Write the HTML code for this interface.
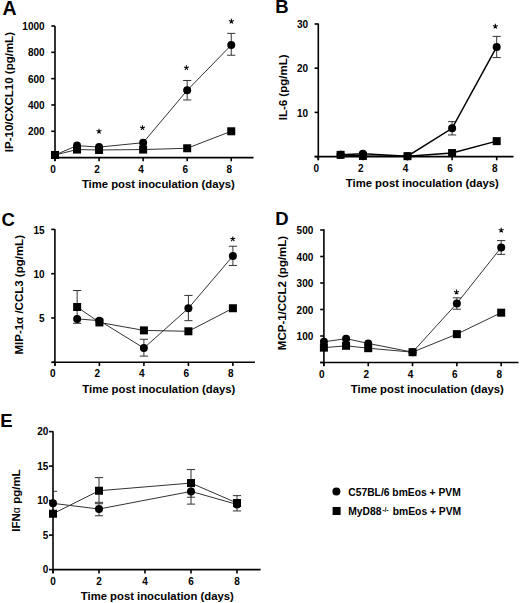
<!DOCTYPE html>
<html><head><meta charset="utf-8"><style>
html,body{margin:0;padding:0;background:#fff;}
svg{display:block;}
svg text{font-family:"Liberation Sans",sans-serif;font-weight:bold;}
</style></head><body>
<svg width="520" height="603" viewBox="0 0 520 603">
<rect width="520" height="603" fill="#fff"/>
<line x1="55.00" y1="25.90" x2="55.00" y2="161.10" stroke="#000" stroke-width="1.6"/>
<line x1="55.00" y1="157.60" x2="253.50" y2="157.60" stroke="#000" stroke-width="1.6"/>
<line x1="51.30" y1="157.60" x2="55.00" y2="157.60" stroke="#000" stroke-width="1.6"/>
<line x1="51.30" y1="131.28" x2="55.00" y2="131.28" stroke="#000" stroke-width="1.6"/>
<text x="44.60" y="135.38" font-size="10" text-anchor="end"  >200</text>
<line x1="51.30" y1="104.96" x2="55.00" y2="104.96" stroke="#000" stroke-width="1.6"/>
<text x="44.60" y="109.06" font-size="10" text-anchor="end"  >400</text>
<line x1="51.30" y1="78.64" x2="55.00" y2="78.64" stroke="#000" stroke-width="1.6"/>
<text x="44.60" y="82.74" font-size="10" text-anchor="end"  >600</text>
<line x1="51.30" y1="52.32" x2="55.00" y2="52.32" stroke="#000" stroke-width="1.6"/>
<text x="44.60" y="56.42" font-size="10" text-anchor="end"  >800</text>
<line x1="51.30" y1="26.00" x2="55.00" y2="26.00" stroke="#000" stroke-width="1.6"/>
<text x="44.60" y="30.10" font-size="10" text-anchor="end"  >1000</text>
<line x1="55.00" y1="157.60" x2="55.00" y2="161.30" stroke="#000" stroke-width="1.6"/>
<text x="53.00" y="172.80" font-size="10" text-anchor="middle"  >0</text>
<line x1="99.06" y1="157.60" x2="99.06" y2="161.30" stroke="#000" stroke-width="1.6"/>
<text x="97.06" y="172.80" font-size="10" text-anchor="middle"  >2</text>
<line x1="143.12" y1="157.60" x2="143.12" y2="161.30" stroke="#000" stroke-width="1.6"/>
<text x="141.12" y="172.80" font-size="10" text-anchor="middle"  >4</text>
<line x1="187.18" y1="157.60" x2="187.18" y2="161.30" stroke="#000" stroke-width="1.6"/>
<text x="185.18" y="172.80" font-size="10" text-anchor="middle"  >6</text>
<line x1="231.24" y1="157.60" x2="231.24" y2="161.30" stroke="#000" stroke-width="1.6"/>
<text x="229.24" y="172.80" font-size="10" text-anchor="middle"  >8</text>
<line x1="187.18" y1="80.48" x2="187.18" y2="99.96" stroke="#333" stroke-width="1"/>
<line x1="183.08" y1="80.48" x2="191.28" y2="80.48" stroke="#333" stroke-width="1"/>
<line x1="183.08" y1="99.96" x2="191.28" y2="99.96" stroke="#333" stroke-width="1"/>
<line x1="231.24" y1="33.37" x2="231.24" y2="55.22" stroke="#333" stroke-width="1"/>
<line x1="227.14" y1="33.37" x2="235.34" y2="33.37" stroke="#333" stroke-width="1"/>
<line x1="227.14" y1="55.22" x2="235.34" y2="55.22" stroke="#333" stroke-width="1"/>
<polyline points="55.00,154.97 77.03,145.62 99.06,147.07 143.12,142.73 187.18,90.35 231.24,45.08" fill="none" stroke="#333" stroke-width="1"/>
<polyline points="55.00,154.97 77.03,149.57 99.06,149.97 143.12,149.57 187.18,148.26 231.24,131.28" fill="none" stroke="#333" stroke-width="1"/>
<circle cx="55.00" cy="154.97" r="4" fill="#000"/>
<circle cx="77.03" cy="145.62" r="4" fill="#000"/>
<circle cx="99.06" cy="147.07" r="4" fill="#000"/>
<circle cx="143.12" cy="142.73" r="4" fill="#000"/>
<circle cx="187.18" cy="90.35" r="4" fill="#000"/>
<circle cx="231.24" cy="45.08" r="4" fill="#000"/>
<rect x="51.00" y="150.97" width="8" height="8" fill="#000"/>
<rect x="73.03" y="145.57" width="8" height="8" fill="#000"/>
<rect x="95.06" y="145.97" width="8" height="8" fill="#000"/>
<rect x="139.12" y="145.57" width="8" height="8" fill="#000"/>
<rect x="183.18" y="144.26" width="8" height="8" fill="#000"/>
<rect x="227.24" y="127.28" width="8" height="8" fill="#000"/>
<path d="M99.00,131.40L99.00,128.80M99.00,131.40L101.47,130.60M99.00,131.40L100.53,133.50M99.00,131.40L97.47,133.50M99.00,131.40L96.53,130.60" stroke="#000" stroke-width="1.05" stroke-linecap="butt" fill="none"/>
<path d="M142.50,127.80L142.50,125.20M142.50,127.80L144.97,127.00M142.50,127.80L144.03,129.90M142.50,127.80L140.97,129.90M142.50,127.80L140.03,127.00" stroke="#000" stroke-width="1.05" stroke-linecap="butt" fill="none"/>
<path d="M186.40,67.80L186.40,65.20M186.40,67.80L188.87,67.00M186.40,67.80L187.93,69.90M186.40,67.80L184.87,69.90M186.40,67.80L183.93,67.00" stroke="#000" stroke-width="1.05" stroke-linecap="butt" fill="none"/>
<path d="M231.40,21.40L231.40,18.80M231.40,21.40L233.87,20.60M231.40,21.40L232.93,23.50M231.40,21.40L229.87,23.50M231.40,21.40L228.93,20.60" stroke="#000" stroke-width="1.05" stroke-linecap="butt" fill="none"/>
<text x="81.90" y="187.70" font-size="11.3" text-anchor="start"  >Time post inoculation (days)</text>
<text x="0.00" y="0.00" font-size="11.5" text-anchor="middle"  transform="translate(12.50,92.10) rotate(-90)">IP-10/CXCL10 (pg/mL)</text>
<text x="2.50" y="14.60" font-size="19.5" text-anchor="start"  >A</text>
<line x1="318.30" y1="23.50" x2="318.30" y2="160.10" stroke="#000" stroke-width="1.6"/>
<line x1="314.60" y1="156.60" x2="513.50" y2="156.60" stroke="#000" stroke-width="1.6"/>
<line x1="314.60" y1="156.60" x2="318.30" y2="156.60" stroke="#000" stroke-width="1.6"/>
<line x1="314.60" y1="112.40" x2="318.30" y2="112.40" stroke="#000" stroke-width="1.6"/>
<text x="308.20" y="116.50" font-size="10" text-anchor="end"  >10</text>
<line x1="314.60" y1="68.20" x2="318.30" y2="68.20" stroke="#000" stroke-width="1.6"/>
<text x="308.20" y="72.30" font-size="10" text-anchor="end"  >20</text>
<line x1="314.60" y1="24.00" x2="318.30" y2="24.00" stroke="#000" stroke-width="1.6"/>
<text x="308.20" y="28.10" font-size="10" text-anchor="end"  >30</text>
<line x1="318.30" y1="156.60" x2="318.30" y2="160.30" stroke="#000" stroke-width="1.6"/>
<text x="316.30" y="171.50" font-size="10" text-anchor="middle"  >0</text>
<line x1="362.90" y1="156.60" x2="362.90" y2="160.30" stroke="#000" stroke-width="1.6"/>
<text x="360.90" y="171.50" font-size="10" text-anchor="middle"  >2</text>
<line x1="407.50" y1="156.60" x2="407.50" y2="160.30" stroke="#000" stroke-width="1.6"/>
<text x="405.50" y="171.50" font-size="10" text-anchor="middle"  >4</text>
<line x1="452.10" y1="156.60" x2="452.10" y2="160.30" stroke="#000" stroke-width="1.6"/>
<text x="450.10" y="171.50" font-size="10" text-anchor="middle"  >6</text>
<line x1="496.70" y1="156.60" x2="496.70" y2="160.30" stroke="#000" stroke-width="1.6"/>
<text x="494.70" y="171.50" font-size="10" text-anchor="middle"  >8</text>
<line x1="452.10" y1="121.68" x2="452.10" y2="134.94" stroke="#333" stroke-width="1"/>
<line x1="448.00" y1="121.68" x2="456.20" y2="121.68" stroke="#333" stroke-width="1"/>
<line x1="448.00" y1="134.94" x2="456.20" y2="134.94" stroke="#333" stroke-width="1"/>
<line x1="496.70" y1="36.38" x2="496.70" y2="57.59" stroke="#333" stroke-width="1"/>
<line x1="492.60" y1="36.38" x2="500.80" y2="36.38" stroke="#333" stroke-width="1"/>
<line x1="492.60" y1="57.59" x2="500.80" y2="57.59" stroke="#333" stroke-width="1"/>
<polyline points="340.60,154.83 362.90,153.73 407.50,156.16 452.10,128.31 496.70,46.98" fill="none" stroke="#000" stroke-width="1.5"/>
<polyline points="340.60,154.83 362.90,155.94 407.50,156.16 452.10,153.06 496.70,141.13" fill="none" stroke="#000" stroke-width="1.5"/>
<rect x="336.60" y="150.83" width="8" height="8" fill="#000"/>
<rect x="358.90" y="151.94" width="8" height="8" fill="#000"/>
<rect x="403.50" y="152.16" width="8" height="8" fill="#000"/>
<rect x="448.10" y="149.06" width="8" height="8" fill="#000"/>
<rect x="492.70" y="137.13" width="8" height="8" fill="#000"/>
<circle cx="340.60" cy="154.83" r="4" fill="#000"/>
<circle cx="362.90" cy="153.73" r="4" fill="#000"/>
<circle cx="407.50" cy="156.16" r="4" fill="#000"/>
<circle cx="452.10" cy="128.31" r="4" fill="#000"/>
<circle cx="496.70" cy="46.98" r="4" fill="#000"/>
<path d="M495.30,26.40L495.30,23.80M495.30,26.40L497.77,25.60M495.30,26.40L496.83,28.50M495.30,26.40L493.77,28.50M495.30,26.40L492.83,25.60" stroke="#000" stroke-width="1.05" stroke-linecap="butt" fill="none"/>
<text x="345.80" y="186.90" font-size="11.3" text-anchor="start"  >Time post inoculation (days)</text>
<text x="0.00" y="0.00" font-size="11.5" text-anchor="middle"  transform="translate(286.50,87.40) rotate(-90)">IL-6 (pg/mL)</text>
<text x="275.30" y="13.40" font-size="18.5" text-anchor="start"  >B</text>
<line x1="54.90" y1="228.90" x2="54.90" y2="365.80" stroke="#000" stroke-width="1.6"/>
<line x1="52.30" y1="362.30" x2="254.90" y2="362.30" stroke="#000" stroke-width="1.6"/>
<line x1="51.20" y1="362.30" x2="54.90" y2="362.30" stroke="#000" stroke-width="1.6"/>
<line x1="51.20" y1="318.00" x2="54.90" y2="318.00" stroke="#000" stroke-width="1.6"/>
<text x="44.50" y="322.10" font-size="10" text-anchor="end"  >5</text>
<line x1="51.20" y1="273.70" x2="54.90" y2="273.70" stroke="#000" stroke-width="1.6"/>
<text x="44.50" y="277.80" font-size="10" text-anchor="end"  >10</text>
<line x1="51.20" y1="229.40" x2="54.90" y2="229.40" stroke="#000" stroke-width="1.6"/>
<text x="44.50" y="233.50" font-size="10" text-anchor="end"  >15</text>
<line x1="54.90" y1="362.30" x2="54.90" y2="366.00" stroke="#000" stroke-width="1.6"/>
<text x="52.90" y="377.20" font-size="10" text-anchor="middle"  >0</text>
<line x1="99.40" y1="362.30" x2="99.40" y2="366.00" stroke="#000" stroke-width="1.6"/>
<text x="97.40" y="377.20" font-size="10" text-anchor="middle"  >2</text>
<line x1="143.90" y1="362.30" x2="143.90" y2="366.00" stroke="#000" stroke-width="1.6"/>
<text x="141.90" y="377.20" font-size="10" text-anchor="middle"  >4</text>
<line x1="188.40" y1="362.30" x2="188.40" y2="366.00" stroke="#000" stroke-width="1.6"/>
<text x="186.40" y="377.20" font-size="10" text-anchor="middle"  >6</text>
<line x1="232.90" y1="362.30" x2="232.90" y2="366.00" stroke="#000" stroke-width="1.6"/>
<text x="230.90" y="377.20" font-size="10" text-anchor="middle"  >8</text>
<line x1="77.15" y1="290.53" x2="77.15" y2="323.32" stroke="#333" stroke-width="1"/>
<line x1="73.05" y1="290.53" x2="81.25" y2="290.53" stroke="#333" stroke-width="1"/>
<line x1="73.05" y1="323.32" x2="81.25" y2="323.32" stroke="#333" stroke-width="1"/>
<line x1="143.90" y1="339.26" x2="143.90" y2="356.10" stroke="#333" stroke-width="1"/>
<line x1="139.80" y1="339.26" x2="148.00" y2="339.26" stroke="#333" stroke-width="1"/>
<line x1="139.80" y1="356.10" x2="148.00" y2="356.10" stroke="#333" stroke-width="1"/>
<line x1="188.40" y1="295.41" x2="188.40" y2="320.66" stroke="#333" stroke-width="1"/>
<line x1="184.30" y1="295.41" x2="192.50" y2="295.41" stroke="#333" stroke-width="1"/>
<line x1="184.30" y1="320.66" x2="192.50" y2="320.66" stroke="#333" stroke-width="1"/>
<line x1="232.90" y1="246.23" x2="232.90" y2="265.46" stroke="#333" stroke-width="1"/>
<line x1="228.80" y1="246.23" x2="237.00" y2="246.23" stroke="#333" stroke-width="1"/>
<line x1="228.80" y1="265.46" x2="237.00" y2="265.46" stroke="#333" stroke-width="1"/>
<polyline points="77.15,318.89 99.40,320.66 143.90,348.12 188.40,308.25 232.90,255.98" fill="none" stroke="#333" stroke-width="1"/>
<polyline points="77.15,307.01 99.40,322.43 143.90,330.40 188.40,331.29 232.90,308.25" fill="none" stroke="#333" stroke-width="1"/>
<circle cx="77.15" cy="318.89" r="4" fill="#000"/>
<circle cx="99.40" cy="320.66" r="4" fill="#000"/>
<circle cx="143.90" cy="348.12" r="4" fill="#000"/>
<circle cx="188.40" cy="308.25" r="4" fill="#000"/>
<circle cx="232.90" cy="255.98" r="4" fill="#000"/>
<rect x="73.15" y="303.01" width="8" height="8" fill="#000"/>
<rect x="95.40" y="318.43" width="8" height="8" fill="#000"/>
<rect x="139.90" y="326.40" width="8" height="8" fill="#000"/>
<rect x="184.40" y="327.29" width="8" height="8" fill="#000"/>
<rect x="228.90" y="304.25" width="8" height="8" fill="#000"/>
<path d="M232.80,239.00L232.80,236.40M232.80,239.00L235.27,238.20M232.80,239.00L234.33,241.10M232.80,239.00L231.27,241.10M232.80,239.00L230.33,238.20" stroke="#000" stroke-width="1.05" stroke-linecap="butt" fill="none"/>
<text x="82.30" y="392.70" font-size="11.3" text-anchor="start"  >Time post inoculation (days)</text>
<text x="0.00" y="0.00" font-size="11.5" text-anchor="middle"  transform="translate(22.50,294.80) rotate(-90)">MIP-1α /CCL3 (pg/mL)</text>
<text x="1.50" y="225.60" font-size="18.5" text-anchor="start"  >C</text>
<line x1="323.90" y1="229.20" x2="323.90" y2="366.00" stroke="#000" stroke-width="1.6"/>
<line x1="320.30" y1="362.50" x2="518.50" y2="362.50" stroke="#000" stroke-width="1.6"/>
<line x1="320.20" y1="362.50" x2="323.90" y2="362.50" stroke="#000" stroke-width="1.6"/>
<line x1="320.20" y1="336.00" x2="323.90" y2="336.00" stroke="#000" stroke-width="1.6"/>
<text x="313.30" y="340.10" font-size="10" text-anchor="end"  >100</text>
<line x1="320.20" y1="309.50" x2="323.90" y2="309.50" stroke="#000" stroke-width="1.6"/>
<text x="313.30" y="313.60" font-size="10" text-anchor="end"  >200</text>
<line x1="320.20" y1="283.00" x2="323.90" y2="283.00" stroke="#000" stroke-width="1.6"/>
<text x="313.30" y="287.10" font-size="10" text-anchor="end"  >300</text>
<line x1="320.20" y1="256.50" x2="323.90" y2="256.50" stroke="#000" stroke-width="1.6"/>
<text x="313.30" y="260.60" font-size="10" text-anchor="end"  >400</text>
<line x1="320.20" y1="230.00" x2="323.90" y2="230.00" stroke="#000" stroke-width="1.6"/>
<text x="313.30" y="234.10" font-size="10" text-anchor="end"  >500</text>
<line x1="323.90" y1="362.50" x2="323.90" y2="366.20" stroke="#000" stroke-width="1.6"/>
<text x="321.90" y="377.70" font-size="10" text-anchor="middle"  >0</text>
<line x1="368.22" y1="362.50" x2="368.22" y2="366.20" stroke="#000" stroke-width="1.6"/>
<text x="366.22" y="377.70" font-size="10" text-anchor="middle"  >2</text>
<line x1="412.54" y1="362.50" x2="412.54" y2="366.20" stroke="#000" stroke-width="1.6"/>
<text x="410.54" y="377.70" font-size="10" text-anchor="middle"  >4</text>
<line x1="456.86" y1="362.50" x2="456.86" y2="366.20" stroke="#000" stroke-width="1.6"/>
<text x="454.86" y="377.70" font-size="10" text-anchor="middle"  >6</text>
<line x1="501.18" y1="362.50" x2="501.18" y2="366.20" stroke="#000" stroke-width="1.6"/>
<text x="499.18" y="377.70" font-size="10" text-anchor="middle"  >8</text>
<line x1="456.86" y1="297.84" x2="456.86" y2="309.24" stroke="#333" stroke-width="1"/>
<line x1="452.76" y1="297.84" x2="460.96" y2="297.84" stroke="#333" stroke-width="1"/>
<line x1="452.76" y1="309.24" x2="460.96" y2="309.24" stroke="#333" stroke-width="1"/>
<line x1="501.18" y1="240.60" x2="501.18" y2="254.38" stroke="#333" stroke-width="1"/>
<line x1="497.08" y1="240.60" x2="505.28" y2="240.60" stroke="#333" stroke-width="1"/>
<line x1="497.08" y1="254.38" x2="505.28" y2="254.38" stroke="#333" stroke-width="1"/>
<polyline points="323.90,341.83 346.06,338.65 368.22,343.42 412.54,352.17 456.86,303.40 501.18,247.49" fill="none" stroke="#333" stroke-width="1"/>
<polyline points="323.90,347.66 346.06,345.81 368.22,348.19 412.54,352.17 456.86,334.14 501.18,312.68" fill="none" stroke="#333" stroke-width="1"/>
<circle cx="323.90" cy="341.83" r="4" fill="#000"/>
<circle cx="346.06" cy="338.65" r="4" fill="#000"/>
<circle cx="368.22" cy="343.42" r="4" fill="#000"/>
<circle cx="412.54" cy="352.17" r="4" fill="#000"/>
<circle cx="456.86" cy="303.40" r="4" fill="#000"/>
<circle cx="501.18" cy="247.49" r="4" fill="#000"/>
<rect x="319.90" y="343.66" width="8" height="8" fill="#000"/>
<rect x="342.06" y="341.81" width="8" height="8" fill="#000"/>
<rect x="364.22" y="344.19" width="8" height="8" fill="#000"/>
<rect x="408.54" y="348.17" width="8" height="8" fill="#000"/>
<rect x="452.86" y="330.14" width="8" height="8" fill="#000"/>
<rect x="497.18" y="308.68" width="8" height="8" fill="#000"/>
<path d="M456.50,292.20L456.50,289.60M456.50,292.20L458.97,291.40M456.50,292.20L458.03,294.30M456.50,292.20L454.97,294.30M456.50,292.20L454.03,291.40" stroke="#000" stroke-width="1.05" stroke-linecap="butt" fill="none"/>
<path d="M501.20,230.30L501.20,227.70M501.20,230.30L503.67,229.50M501.20,230.30L502.73,232.40M501.20,230.30L499.67,232.40M501.20,230.30L498.73,229.50" stroke="#000" stroke-width="1.05" stroke-linecap="butt" fill="none"/>
<text x="350.80" y="392.60" font-size="11.3" text-anchor="start"  >Time post inoculation (days)</text>
<text x="0.00" y="0.00" font-size="11.5" text-anchor="middle"  transform="translate(285.50,293.00) rotate(-90)">MCP-1/CCL2 (pg/mL)</text>
<text x="275.30" y="224.60" font-size="18.5" text-anchor="start"  >D</text>
<line x1="53.00" y1="431.30" x2="53.00" y2="573.10" stroke="#000" stroke-width="1.6"/>
<line x1="53.00" y1="569.60" x2="260.60" y2="569.60" stroke="#000" stroke-width="1.6"/>
<line x1="49.00" y1="569.60" x2="53.00" y2="569.60" stroke="#000" stroke-width="1.6"/>
<text x="48.30" y="573.20" font-size="10" text-anchor="end"  >0</text>
<line x1="49.00" y1="535.10" x2="53.00" y2="535.10" stroke="#000" stroke-width="1.6"/>
<text x="48.30" y="538.70" font-size="10" text-anchor="end"  >5</text>
<line x1="49.00" y1="500.60" x2="53.00" y2="500.60" stroke="#000" stroke-width="1.6"/>
<text x="48.30" y="504.20" font-size="10" text-anchor="end"  >10</text>
<line x1="49.00" y1="466.10" x2="53.00" y2="466.10" stroke="#000" stroke-width="1.6"/>
<text x="48.30" y="469.70" font-size="10" text-anchor="end"  >15</text>
<line x1="49.00" y1="431.60" x2="53.00" y2="431.60" stroke="#000" stroke-width="1.6"/>
<text x="48.30" y="435.20" font-size="10" text-anchor="end"  >20</text>
<line x1="53.00" y1="569.60" x2="53.00" y2="573.60" stroke="#000" stroke-width="1.6"/>
<text x="53.00" y="585.00" font-size="10" text-anchor="middle"  >0</text>
<line x1="99.00" y1="569.60" x2="99.00" y2="573.60" stroke="#000" stroke-width="1.6"/>
<text x="99.00" y="585.00" font-size="10" text-anchor="middle"  >2</text>
<line x1="145.00" y1="569.60" x2="145.00" y2="573.60" stroke="#000" stroke-width="1.6"/>
<text x="145.00" y="585.00" font-size="10" text-anchor="middle"  >4</text>
<line x1="191.00" y1="569.60" x2="191.00" y2="573.60" stroke="#000" stroke-width="1.6"/>
<text x="191.00" y="585.00" font-size="10" text-anchor="middle"  >6</text>
<line x1="237.00" y1="569.60" x2="237.00" y2="573.60" stroke="#000" stroke-width="1.6"/>
<text x="237.00" y="585.00" font-size="10" text-anchor="middle"  >8</text>
<line x1="99.00" y1="477.62" x2="99.00" y2="502.33" stroke="#333" stroke-width="1"/>
<line x1="94.90" y1="477.62" x2="103.10" y2="477.62" stroke="#333" stroke-width="1"/>
<line x1="94.90" y1="502.33" x2="103.10" y2="502.33" stroke="#333" stroke-width="1"/>
<line x1="99.00" y1="503.71" x2="99.00" y2="515.78" stroke="#333" stroke-width="1"/>
<line x1="94.90" y1="503.71" x2="103.10" y2="503.71" stroke="#333" stroke-width="1"/>
<line x1="94.90" y1="515.78" x2="103.10" y2="515.78" stroke="#333" stroke-width="1"/>
<line x1="191.00" y1="469.55" x2="191.00" y2="497.22" stroke="#333" stroke-width="1"/>
<line x1="186.90" y1="469.55" x2="195.10" y2="469.55" stroke="#333" stroke-width="1"/>
<line x1="186.90" y1="497.22" x2="195.10" y2="497.22" stroke="#333" stroke-width="1"/>
<line x1="191.00" y1="491.63" x2="191.00" y2="504.12" stroke="#333" stroke-width="1"/>
<line x1="186.90" y1="491.63" x2="195.10" y2="491.63" stroke="#333" stroke-width="1"/>
<line x1="186.90" y1="504.12" x2="195.10" y2="504.12" stroke="#333" stroke-width="1"/>
<line x1="237.00" y1="495.63" x2="237.00" y2="510.95" stroke="#333" stroke-width="1"/>
<line x1="232.90" y1="495.63" x2="241.10" y2="495.63" stroke="#333" stroke-width="1"/>
<line x1="232.90" y1="510.95" x2="241.10" y2="510.95" stroke="#333" stroke-width="1"/>
<line x1="53.00" y1="491.29" x2="57.10" y2="491.29" stroke="#333" stroke-width="1"/>
<polyline points="53.00,503.36 99.00,509.02 191.00,491.42 237.00,504.40" fill="none" stroke="#333" stroke-width="1"/>
<polyline points="53.00,513.71 99.00,490.73 191.00,483.07 237.00,503.01" fill="none" stroke="#333" stroke-width="1"/>
<circle cx="53.00" cy="503.36" r="4" fill="#000"/>
<circle cx="99.00" cy="509.02" r="4" fill="#000"/>
<circle cx="191.00" cy="491.42" r="4" fill="#000"/>
<circle cx="237.00" cy="504.40" r="4" fill="#000"/>
<rect x="49.00" y="509.71" width="8" height="8" fill="#000"/>
<rect x="95.00" y="486.73" width="8" height="8" fill="#000"/>
<rect x="187.00" y="479.07" width="8" height="8" fill="#000"/>
<rect x="233.00" y="499.01" width="8" height="8" fill="#000"/>
<text x="80.80" y="600.20" font-size="11.3" text-anchor="start"  >Time post inoculation (days)</text>
<text x="0.00" y="0.00" font-size="11.5" text-anchor="middle"  transform="translate(20.00,500.50) rotate(-90)">IFN<tspan style='font-weight:normal' font-size='10.5'>α</tspan> pg/mL</text>
<text x="0.30" y="427.40" font-size="18.5" text-anchor="start"  >E</text>
<circle cx="336.40" cy="491.50" r="4" fill="#000"/>
<rect x="332.60" y="507.00" width="8" height="8" fill="#000"/>
<text x="348.30" y="495.80" font-size="10.3" text-anchor="start"  >C57BL/6 bmEos + PVM</text>
<text x="348.3" y="515" font-size="10.3" >MyD88<tspan font-size="6.8" dx="0.7" dy="-3.4">-/-</tspan><tspan dx="1.3" dy="3.4"> bmEos + PVM</tspan></text>
</svg>
</body></html>
